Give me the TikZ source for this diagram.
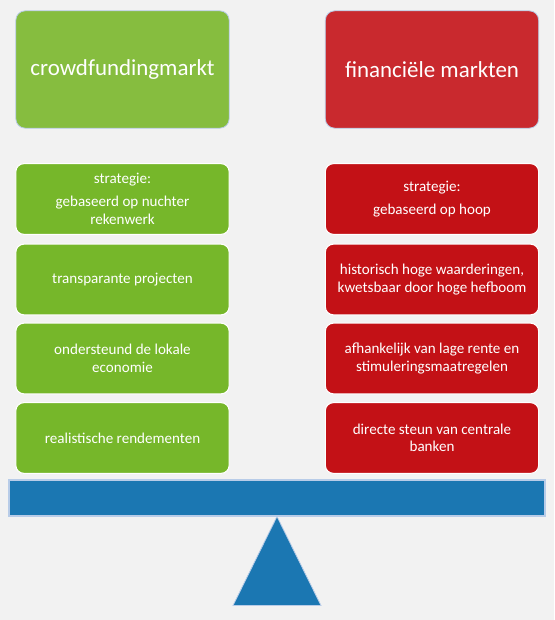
\documentclass[tikz,border=0pt]{standalone}
\usepackage{fontspec}
\setmainfont{Carlito}
\usepackage{tikz}

\definecolor{bgc}{HTML}{F2F2F2}
\definecolor{greenhead}{HTML}{86BD3F}
\definecolor{greenitem}{HTML}{76B72A}
\definecolor{redhead}{HTML}{C9292E}
\definecolor{reditem}{HTML}{C31116}
\definecolor{beamblue}{HTML}{1B77B2}
\definecolor{edgeblue}{HTML}{B8CCE8}

\begin{document}
\begin{tikzpicture}[x=0.75pt,y=-0.75pt,
	head/.style={rounded corners=7pt, draw=edgeblue, line width=0.6pt,
		minimum width=160pt, minimum height=88pt, text=white,
		font=\fontsize{17.2pt}{20pt}\selectfont},
	item/.style={rounded corners=6pt, draw=white, line width=0.8pt,
		minimum width=160pt, minimum height=53pt, text=white, align=center,
		font=\fontsize{11.3pt}{13.2pt}\selectfont}]
\fill[bgc] (0,0) rectangle (554,620);
\useasboundingbox (0,0) rectangle (554,620);

\path (122.5,69.5) node[head, fill=greenhead] (crowd) {crowdfundingmarkt}
		(432,69.5) node[head, fill=redhead] (fin) {financiële markten}
		(122.5,199) node[item, fill=greenitem] (crowd1) {strategie:\\[4pt]gebaseerd op nuchter\\rekenwerk}
		(122.5,279.5) node[item, fill=greenitem] (crowd2) {transparante projecten}
		(122.5,358.5) node[item, fill=greenitem] (crowd3) {ondersteund de lokale\\economie}
		(122.5,438) node[item, fill=greenitem] (crowd4) {realistische rendementen}
		(432,199) node[item, fill=reditem] (fin1) {strategie:\\[4pt]gebaseerd op hoop}
		(432,279.5) node[item, fill=reditem] (fin2) {historisch hoge waarderingen,\\kwetsbaar door hoge hefboom}
		(432,358.5) node[item, fill=reditem] (fin3) {afhankelijk van lage rente en\\stimuleringsmaatregelen}
		(432,438) node[item, fill=reditem] (fin4) {directe steun van centrale\\banken}
		(277,498) node[fill=beamblue, draw=edgeblue, line width=0.8pt,
			minimum width=402pt, minimum height=27pt, inner sep=0pt] (beam) {}
;

\draw[fill=beamblue, draw=edgeblue, line width=0.6pt] (beam.south) -- ++(44,89) -- ++(-88,0) -- cycle;

\end{tikzpicture}
\end{document}
